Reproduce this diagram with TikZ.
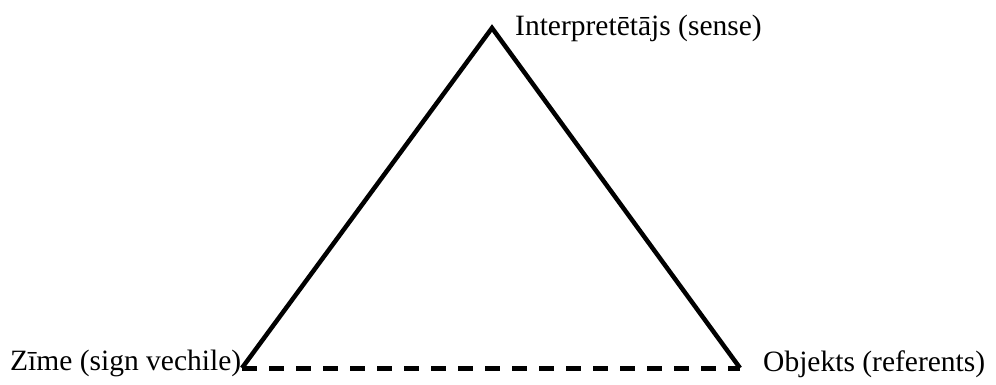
\documentclass[tikz,border=0pt]{standalone}
\usepackage{fontspec}
\setmainfont{Liberation Serif}
\usetikzlibrary{positioning}
\tikzset{
  side/.style={line width=4.5pt, black, line join=miter},
  dashedside/.style={line width=5pt, black, dash pattern=on 15pt off 12pt},
  termlabel/.style={font=\fontsize{29.5}{34}\selectfont, inner sep=0pt, anchor=base west},
}

\begin{document}
\begin{tikzpicture}[x=1pt, y=-1pt]
  \useasboundingbox (0,0) rectangle (996,385);
  % corners of the triangle
  \coordinate (apex) at (492,28);
  \coordinate (sign) at (242,368);
  \coordinate (object) at (740,368);
  % sides
  \draw[side] (sign) -- (apex) -- (object);
  \draw[dashedside] (sign) -- (object);
  % labels
  \node[termlabel] (interp) at (515,36) {Interpretētājs (sense)};
  \node[termlabel] (zime) at (10,370) {Zīme (sign vechile)};
  \node[termlabel] (objekts) at (763,371) {Objekts (referents)};
\end{tikzpicture}
\end{document}
